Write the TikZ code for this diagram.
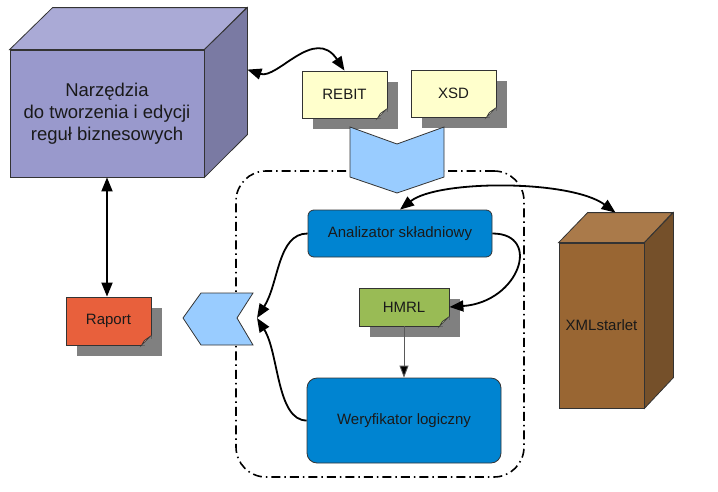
\documentclass[tikz,border=0pt]{standalone}
\usepackage{fontspec}
\setmainfont{Liberation Sans}
\usetikzlibrary{arrows.meta,shadows,calc}

\definecolor{ink}{HTML}{1A1A1A}
\definecolor{edge}{HTML}{333333}
\definecolor{shadowgray}{HTML}{808080}
\definecolor{purfront}{HTML}{9999CC}
\definecolor{purtop}{HTML}{AAAAD6}
\definecolor{purside}{HTML}{7A7AA3}
\definecolor{brfront}{HTML}{996633}
\definecolor{brtop}{HTML}{AA7A4A}
\definecolor{brside}{HTML}{75502A}
\definecolor{notey}{HTML}{FFFFCC}
\definecolor{hmrlg}{HTML}{99BB55}
\definecolor{raportr}{HTML}{E8603C}
\definecolor{procblue}{HTML}{0084D1}
\definecolor{chev}{HTML}{99CCFF}

\tikzset{
  frame/.style={draw=black, line width=1.6pt, rounded corners=30pt,
    dash pattern=on 9pt off 4pt on 1.5pt off 4pt,
    minimum width=288pt, minimum height=306pt},
  cube/.style={draw=edge, line width=0.8pt, align=center, inner sep=0pt},
  note/.style={draw=edge, line width=0.8pt, minimum width=85pt, minimum height=47pt,
    drop shadow={shadow xshift=11pt, shadow yshift=-11pt, fill=shadowgray, opacity=1}},
  proc/.style={draw=edge, line width=0.8pt, fill=procblue, rounded corners=6pt},
  chevron/.style={draw=edge, line width=0.8pt, fill=chev},
  link/.style={line width=1.8pt, draw=black},
  thinlink/.style={line width=0.9pt, draw=black!65, -{Triangle[length=12pt,width=9pt,fill=black]}}
}

\def\fold(#1)[#2]{%
  \fill[shadowgray] ([xshift=-10pt]#1.south east) -- ([xshift=1pt,yshift=-1pt]#1.south east) -- ([yshift=10pt]#1.south east) -- cycle;
  \filldraw[fill=#2!55!white, draw=edge, line width=0.6pt] ([xshift=-10pt]#1.south east) -- ([yshift=10pt]#1.south east) -- ([xshift=-7pt,yshift=5pt]#1.south east) -- cycle;}

\begin{document}
\begin{tikzpicture}[x=1pt,y=-1pt,text=ink,font=\fontsize{15}{18}\selectfont,
  >={Triangle[length=14pt,width=11pt]}]
  \useasboundingbox (0,0) rectangle (718,491);
  %%%%% START %%%%%

  \node[frame] (modul) at (380,324) {};

  % szescian narzedzi
  \node[cube, fill=purfront, minimum width=194pt, minimum height=127pt,
    font=\fontsize{18.5}{22}\selectfont] (narzedzia) at (107,113.5)
    {Narzędzia\\do tworzenia i edycji\\reguł biznesowych};
  \filldraw[fill=purtop, draw=edge, line width=0.8pt] (narzedzia.north west) -- ++(43,-42) -- ++(194,0) -- (narzedzia.north east) -- cycle;
  \filldraw[fill=purside, draw=edge, line width=0.8pt] (narzedzia.north east) -- ++(43,-42) -- ++(0,127) -- (narzedzia.south east) -- cycle;

  % szescian xmlstarlet
  \node[cube, fill=brfront, minimum width=85pt, minimum height=165pt] (xml) at (601.5,325.5) {XMLstarlet};
  \filldraw[fill=brtop, draw=edge, line width=0.8pt] (xml.north west) -- ++(29,-30) -- ++(85,0) -- (xml.north east) -- cycle;
  \filldraw[fill=brside, draw=edge, line width=0.8pt] (xml.north east) -- ++(29,-30) -- ++(0,165) -- (xml.south east) -- cycle;

  % notatki
  \node[note, fill=notey] (rebit) at (344.5,94.5) {REBIT};
  \fold(rebit)[notey]
  \node[note, fill=notey] (xsd) at (453.5,93.5) {XSD};
  \fold(xsd)[notey]
  \node[note, fill=hmrlg, minimum width=90pt, minimum height=38pt] (hmrl) at (404,307) {HMRL};
  \fold(hmrl)[hmrlg]
  \node[note, fill=raportr, minimum height=48pt] (raport) at (108.5,321) {Raport};
  \fold(raport)[raportr]

  % strzalki blokowe
  \filldraw[chevron] (350,127) -- (397,144) -- (444,127) -- (444,177) -- (397,193) -- (350,177) -- cycle;
  \filldraw[chevron] (183,318) -- (201,293) -- (253,293) -- (237,318) -- (253,345) -- (201,345) -- cycle;
  \coordinate (wejscie) at (257,318);

  % procesy
  \node[proc, minimum width=184pt, minimum height=47pt] (analizator) at (400,233.5) {Analizator składniowy};
  \node[proc, minimum width=194pt, minimum height=85pt, rounded corners=10pt] (weryfikator) at (404,420.5) {Weryfikator logiczny};

  % polaczenia
  \coordinate (narzedziaR) at ($(narzedzia.north east)+(43,20)$);
  \coordinate (xmlT) at ($(xml.north)+(14,-30)$);
  \draw[link,<->] (narzedziaR) .. controls +(30,10) and +(-30,-45) .. (rebit.north);
  \draw[link,<->] (narzedzia.south) -- (narzedzia.south |- raport.north);
  \draw[link,<->] (analizator.north) .. controls +(38,-30) and +(-45,-33) .. (xmlT);
  \draw[link,->] (analizator.west) .. controls +(-30,0) and +(22,-35) .. (wejscie);
  \draw[link,->] (weryfikator.west) .. controls +(-30,0) and +(22,35) .. (wejscie);
  \draw[link,->] (analizator.east) .. controls +(50,0) and +(70,-5) .. (hmrl.east);
  \draw[thinlink] (hmrl.south) -- (weryfikator.north);

  %%%%% END %%%%%
\end{tikzpicture}
\end{document}
